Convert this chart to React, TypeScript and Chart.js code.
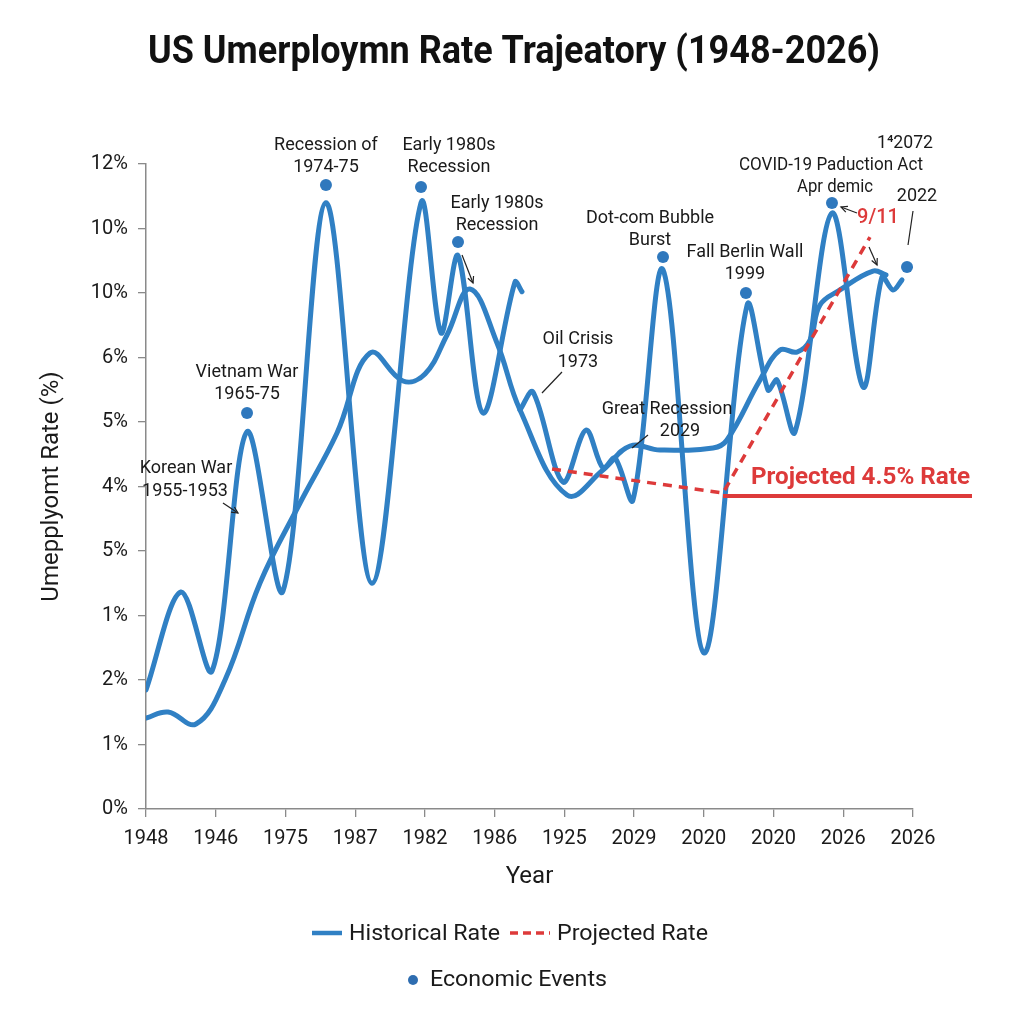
import React, { useEffect, useRef } from "react";
import { Chart, registerables } from "chart.js";

Chart.register(...registerables);

// ---- tick labels (as printed on the reference) ----
const xLabels = ["1948", "1946", "1975", "1987", "1982", "1986", "1925", "2029", "2020", "2020", "2026", "2026"];
const yLabels = ["0%", "1%", "2%", "1%", "5%", "4%", "5%", "6%", "10%", "10%", "12%"];

// ---- series values (x in tick-index units, y in tick-index units) ----
const histAX = [0, 0.502, 0.947, 1.449, 1.965, 2.581, 3.241, 3.944, 4.231, 4.475, 4.833, 5.292, 5.392];
const histAY = [1.845, 3.364, 2.14, 5.85, 3.38, 9.4, 3.5, 9.4, 7.38, 8.58, 6.14, 8.17, 8.02];

const trendX = [0, 0.316, 0.717, 1.133, 1.635, 2.209, 2.739, 3.213, 3.686, 4.001, 4.317, 4.647, 5.034, 5.364, 6.038, 6.554, 6.942, 7.372, 8.132, 8.332, 8.806, 9.093, 9.336, 9.523, 9.666, 9.953, 10.426, 10.613];
const trendY = [1.411, 1.504, 1.318, 2.0, 3.504, 4.744, 5.829, 7.07, 6.636, 6.744, 7.349, 8.062, 7.225, 6.186, 4.868, 5.256, 5.628, 5.566, 5.597, 5.721, 6.651, 7.116, 7.085, 7.271, 7.814, 8.047, 8.341, 8.279];

const histCX = [5.364, 5.55, 5.98, 6.31, 6.554, 6.726, 6.984, 7.415, 8.003, 8.62, 8.92, 9.05, 9.308, 9.838, 10.283, 10.555, 10.713, 10.842];
const histCY = [6.186, 6.465, 5.07, 5.876, 5.287, 5.442, 4.791, 8.36, 2.42, 7.81, 6.496, 6.651, 5.845, 9.24, 6.543, 8.248, 8.047, 8.202];

const projX = [5.823, 8.275, 10.383];
const projY = [5.271, 4.899, 8.868];

const eventX = [1.449, 2.581, 3.944, 4.475, 7.415, 8.604, 9.838, 10.914];
const eventY = [6.14, 9.674, 9.643, 8.79, 8.558, 8.0, 9.395, 8.403];
const eventLabels = [
  ["Vietnam War", "1965-75"],
  ["Recession of", "1974-75"],
  ["Early 1980s", "Recession"],
  ["Early 1980s", "Recession"],
  ["Dot-com Bubble", "Burst"],
  ["Fall Berlin Wall", "1999"],
  ["1⁴2072", "COVID-19 Paduction Act", "Apr demic"],
  ["2022"],
];

// notes without a marker: anchor in data units
const noteX = [1.319, 5.679, 6.97, 10.484];
const noteY = [4.589, 6.45, 5.597, 8.434];
const noteLabels = [["Korean War", "1955-1953"], ["Oil Crisis", "1973"], ["Great Recession", "2029"], ["9/11"]];

const projectedLabel = "Projected 4.5% Rate";
const legendLabels = ["Historical Rate", "Projected Rate", "Economic Events"];

// ---- layout / style (pixel offsets from anchors) ----
const eventLayout: any[] = [
  { lines: [[0, -40], [0, -18]] },
  { lines: [[0, -40], [0, -18]] },
  { lines: [[28, -42], [28, -20]] },
  { lines: [[39, -39], [39, -17]], conn: [4, 13, 15, 41], arrow: true },
  { lines: [[-13, -39], [-13, -17]] },
  { lines: [[-1, -41], [-1, -19]] },
  { lines: [[73, -60], [-1, -38], [3, -16]], conn: [25, 10, 9, 4], arrow: true, widths: [56, 184, 76] },
  { lines: [[10, -71]], conn: [6, -56, 1, -22], arrow: false },
];
const noteLayout: any[] = [
  { lines: [[-52, -45], [-53, -22]], conn: [-15, -10, 0, 0], arrow: true },
  { lines: [[36, -53], [36, -30]], conn: [20, -21, 0, 0], arrow: false },
  { lines: [[35, -38], [48, -16]], conn: [16, -13, 0, 0], arrow: false },
  { lines: [[1, -47]], conn: [-8, -18, 0, 0], arrow: true, red: true },
];

const BLUE = "#3080c4";
const DOT = "#2f78bd";
const RED = "#dd3a3a";
const TEXT = "#1a1a1a";
const GRAY = "#8a8a8a";
const FONT = "Roboto, 'Noto Sans', sans-serif";

const pts = (xs: number[], ys: number[]) => xs.map((x, i) => ({ x, y: ys[i] }));

function fitText(ctx: any, text: string, x: number, y: number, width: number, font: string, color: string, align: string) {
  ctx.save();
  ctx.font = font;
  const w = ctx.measureText(text).width;
  const s = width / w;
  ctx.translate(x, y);
  ctx.scale(s, 1);
  ctx.textAlign = align;
  ctx.textBaseline = "middle";
  ctx.fillStyle = color;
  ctx.fillText(text, 0, 0);
  ctx.restore();
}

function connector(ctx: any, x1: number, y1: number, x2: number, y2: number, arrow: boolean) {
  ctx.save();
  ctx.strokeStyle = "#222";
  ctx.lineWidth = 1.2;
  ctx.beginPath();
  ctx.moveTo(x1, y1);
  ctx.lineTo(x2, y2);
  ctx.stroke();
  if (arrow) {
    const a = Math.atan2(y2 - y1, x2 - x1);
    const L = 7;
    ctx.beginPath();
    ctx.moveTo(x2 - L * Math.cos(a - 0.45), y2 - L * Math.sin(a - 0.45));
    ctx.lineTo(x2, y2);
    ctx.lineTo(x2 - L * Math.cos(a + 0.45), y2 - L * Math.sin(a + 0.45));
    ctx.stroke();
  }
  ctx.restore();
}

const overlay = {
  id: "overlay",
  afterDatasetsDraw(chart: any) {
    const { ctx } = chart;
    const xs = chart.scales.x;
    const ys = chart.scales.y;
    ctx.save();
    ctx.textAlign = "center";
    ctx.textBaseline = "middle";

    const drawGroup = (ax: number, ay: number, labels: string[], lay: any) => {
      const px = xs.getPixelForValue(ax);
      const py = ys.getPixelForValue(ay);
      labels.forEach((t, i) => {
        const [dx, dy] = lay.lines[i];
        const font = lay.red ? `500 20px ${FONT}` : `18px ${FONT}`;
        const color = lay.red ? RED : TEXT;
        if (lay.widths) {
          fitText(ctx, t, px + dx, py + dy, lay.widths[i], font, color, "center");
        } else {
          ctx.font = font;
          ctx.fillStyle = color;
          ctx.fillText(t, px + dx, py + dy);
        }
      });
      if (lay.conn) {
        const c = lay.conn;
        connector(ctx, px + c[0], py + c[1], px + c[2], py + c[3], lay.arrow);
      }
    };

    eventX.forEach((x, i) => drawGroup(x, eventY[i], eventLabels[i], eventLayout[i]));
    noteX.forEach((x, i) => drawGroup(x, noteY[i], noteLabels[i], noteLayout[i]));

    // projected rate horizontal line and label
    const vx = xs.getPixelForValue(projX[1]);
    const vy = ys.getPixelForValue(projY[1]);
    ctx.strokeStyle = RED;
    ctx.lineWidth = 4;
    ctx.beginPath();
    ctx.moveTo(vx, vy + 3);
    ctx.lineTo(xs.right + 59, vy + 3);
    ctx.stroke();
    fitText(ctx, projectedLabel, vx + 28, vy - 15, 219, `bold 24px ${FONT}`, RED, "left");
    ctx.restore();
  },
  afterDraw(chart: any) {
    const { ctx } = chart;
    // title
    fitText(ctx, "US Umerploymn Rate Trajeatory (1948-2026)", 514, 53, 732, `bold 38px ${FONT}`, "#111", "center");
    // legend
    ctx.save();
    ctx.strokeStyle = BLUE;
    ctx.lineWidth = 4.5;
    ctx.beginPath();
    ctx.moveTo(312, 933);
    ctx.lineTo(342, 933);
    ctx.stroke();
    fitText(ctx, legendLabels[0], 349, 934, 151, `22px ${FONT}`, TEXT, "left");
    ctx.strokeStyle = RED;
    ctx.lineWidth = 3.5;
    ctx.setLineDash([8, 5]);
    ctx.beginPath();
    ctx.moveTo(510, 933);
    ctx.lineTo(550, 933);
    ctx.stroke();
    ctx.setLineDash([]);
    fitText(ctx, legendLabels[1], 557, 934, 151, `22px ${FONT}`, TEXT, "left");
    ctx.fillStyle = "#2e6db0";
    ctx.beginPath();
    ctx.arc(413, 980, 5, 0, Math.PI * 2);
    ctx.fill();
    fitText(ctx, legendLabels[2], 430, 980, 177, `22px ${FONT}`, TEXT, "left");
    ctx.restore();
  },
};

export default function App() {
  const ref = useRef<HTMLCanvasElement | null>(null);
  useEffect(() => {
    if (!ref.current) return;
    const lineBase = { borderColor: BLUE, borderWidth: 5, pointRadius: 0, fill: false, borderCapStyle: "round", borderJoinStyle: "round" };
    const chart = new Chart(ref.current, {
      type: "line",
      data: {
        datasets: [
          { type: "scatter", label: "Economic Events", data: pts(eventX, eventY), pointRadius: 6, pointBackgroundColor: DOT, pointBorderWidth: 0, showLine: false, order: 0 } as any,
          { label: "Projected Rate", data: pts(projX, projY), borderColor: RED, borderWidth: 3.5, borderDash: [9, 7], pointRadius: 0, tension: 0, fill: false, order: 1 } as any,
          { label: "Historical Rate", data: pts(histAX, histAY), ...lineBase, tension: 0.33, order: 2 } as any,
          { label: "Historical Trend", data: pts(trendX, trendY), ...lineBase, tension: 0.4, order: 2 } as any,
          { label: "Historical Rate 2", data: pts(histCX, histCY), ...lineBase, tension: 0.33, order: 2 } as any,
        ],
      },
      options: {
        animation: false,
        responsive: false,
        devicePixelRatio: 1,
        layout: { padding: { left: 34, top: 164, right: 111, bottom: 130 } },
        plugins: { legend: { display: false }, tooltip: { enabled: false }, title: { display: false } },
        scales: {
          x: {
            type: "linear",
            min: 0,
            max: 11,
            afterFit: (s: any) => { s.height = 85; },
            ticks: {
              stepSize: 1,
              autoSkip: false,
              maxRotation: 0,
              padding: 10,
              color: TEXT,
              font: { family: FONT, size: 20 },
              callback: (v: any) => xLabels[Math.round(Number(v))] ?? "",
            },
            grid: { drawOnChartArea: false, drawTicks: true, tickLength: 8, color: GRAY, lineWidth: 1.3 },
            border: { display: true, color: GRAY, width: 1.5 },
            title: { display: true, text: "Year", color: TEXT, font: { family: FONT, size: 24 }, padding: { top: 4, bottom: 3 } },
          },
          y: {
            type: "linear",
            min: 0,
            max: 10,
            afterFit: (s: any) => { s.width = 112; },
            ticks: {
              stepSize: 1,
              autoSkip: false,
              padding: 10,
              color: TEXT,
              font: { family: FONT, size: 20 },
              callback: (v: any) => yLabels[Math.round(Number(v))] ?? "",
            },
            grid: { drawOnChartArea: false, drawTicks: true, tickLength: 8, color: GRAY, lineWidth: 1.3 },
            border: { display: true, color: GRAY, width: 1.5 },
            title: { display: true, text: "Umepplyomt Rate (%)", color: TEXT, font: { family: FONT, size: 24 } },
          },
        },
      } as any,
      plugins: [overlay],
    });
    return () => chart.destroy();
  }, []);
  return (
    <div style={{ position: "absolute", left: 0, top: 0, width: 1024, height: 1024, background: "#fff" }}>
      <canvas ref={ref} width={1024} height={1024} style={{ display: "block", width: 1024, height: 1024 }} />
    </div>
  );
}
